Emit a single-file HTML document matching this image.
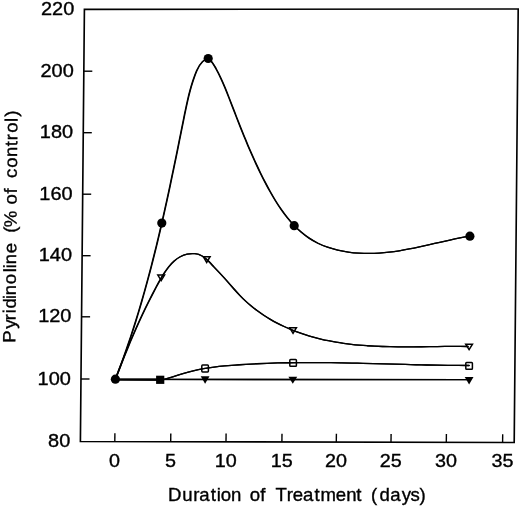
<!DOCTYPE html>
<html><head><meta charset="utf-8"><title>Pyridinoline chart</title>
<style>
html,body{margin:0;padding:0;background:#fff;}
body{width:520px;height:507px;overflow:hidden;}
svg{display:block;}
svg text{font-family:"Liberation Sans",sans-serif;font-size:17.7px;fill:#000;stroke:#000;stroke-width:0.35px;}
</style></head><body>
<svg width="520" height="507" viewBox="0 0 520 507">
<rect width="520" height="507" fill="#fff"/>
<polygon points="84.4,9.4 518.2,9.0 514.2,442.5 80.4,441.5" fill="none" stroke="#000" stroke-width="1.65" stroke-linejoin="miter"/>
<line x1="83.8" y1="71.2" x2="92.3" y2="71.2" stroke="#000" stroke-width="1.4"/>
<line x1="83.3" y1="132.7" x2="91.8" y2="132.7" stroke="#000" stroke-width="1.4"/>
<line x1="82.7" y1="194.2" x2="91.2" y2="194.2" stroke="#000" stroke-width="1.4"/>
<line x1="82.1" y1="255.7" x2="90.6" y2="255.7" stroke="#000" stroke-width="1.4"/>
<line x1="81.6" y1="316.8" x2="90.1" y2="316.8" stroke="#000" stroke-width="1.4"/>
<line x1="81.0" y1="379.0" x2="89.5" y2="379.0" stroke="#000" stroke-width="1.4"/>
<line x1="114.8" y1="441.6" x2="114.9" y2="433.3" stroke="#000" stroke-width="1.4"/>
<line x1="170.7" y1="441.7" x2="170.8" y2="433.4" stroke="#000" stroke-width="1.4"/>
<line x1="226.0" y1="441.8" x2="226.1" y2="433.5" stroke="#000" stroke-width="1.4"/>
<line x1="281.9" y1="442.0" x2="282.0" y2="433.7" stroke="#000" stroke-width="1.4"/>
<line x1="336.3" y1="442.1" x2="336.4" y2="433.8" stroke="#000" stroke-width="1.4"/>
<line x1="391.0" y1="442.2" x2="391.1" y2="433.9" stroke="#000" stroke-width="1.4"/>
<line x1="446.3" y1="442.3" x2="446.4" y2="434.0" stroke="#000" stroke-width="1.4"/>
<line x1="502.6" y1="442.5" x2="502.7" y2="434.2" stroke="#000" stroke-width="1.4"/>
<path d="M115.40 379.20 C116.65 376.00 117.89 372.80 119.10 369.60 C120.31 366.39 121.50 363.18 122.67 359.95 C123.84 356.73 124.99 353.50 126.12 350.27 C127.25 347.03 128.37 343.79 129.46 340.54 C130.55 337.29 131.63 334.03 132.68 330.77 C133.74 327.51 134.78 324.24 135.80 320.97 C136.82 317.70 137.83 314.42 138.82 311.13 C139.81 307.85 140.78 304.56 141.74 301.26 C142.69 297.97 143.64 294.67 144.56 291.37 C145.49 288.06 146.40 284.75 147.30 281.44 C148.20 278.13 149.09 274.81 149.96 271.49 C150.84 268.17 151.70 264.85 152.54 261.52 C153.39 258.19 154.23 254.86 155.05 251.53 C155.88 248.19 156.69 244.86 157.50 241.52 C158.30 238.18 159.09 234.84 159.87 231.49 C160.66 228.15 161.43 224.80 162.20 221.45 C162.96 218.10 163.72 214.75 164.47 211.40 C165.22 208.05 165.96 204.70 166.69 201.34 C167.42 197.99 168.15 194.64 168.87 191.28 C169.59 187.92 170.30 184.57 171.01 181.21 C171.72 177.86 172.42 174.50 173.12 171.14 C173.82 167.79 174.51 164.43 175.20 161.07 C175.89 157.72 176.57 154.36 177.26 151.01 C177.94 147.65 178.62 144.30 179.30 140.95 C179.97 137.59 180.65 134.24 181.32 130.89 C182.00 127.54 182.67 124.19 183.34 120.85 C184.01 117.50 184.68 114.16 185.37 110.82 C186.06 107.48 186.77 104.13 187.53 100.79 C188.29 97.46 189.11 94.12 190.01 90.78 C190.91 87.44 191.89 84.10 192.99 80.76 C194.09 77.42 195.26 74.04 196.70 70.75 C198.13 67.46 199.91 64.30 202.55 61.66 C205.19 59.01 208.15 58.18 210.33 60.15 C212.51 62.12 214.33 65.61 216.05 68.72 C217.78 71.83 219.36 74.98 220.84 78.16 C222.33 81.33 223.71 84.53 225.03 87.74 C226.35 90.95 227.62 94.18 228.86 97.39 C230.11 100.61 231.34 103.83 232.58 107.04 C233.82 110.24 235.06 113.44 236.30 116.64 C237.55 119.83 238.80 123.01 240.06 126.19 C241.32 129.37 242.59 132.53 243.88 135.69 C245.17 138.85 246.48 142.01 247.81 145.15 C249.14 148.29 250.49 151.42 251.87 154.55 C253.25 157.67 254.66 160.79 256.10 163.89 C257.53 166.99 259.01 170.09 260.52 173.17 C262.03 176.26 263.58 179.33 265.17 182.39 C266.77 185.46 268.40 188.51 270.09 191.54 C271.78 194.57 273.53 197.57 275.34 200.53 C277.15 203.48 279.03 206.38 280.99 209.21 C282.95 212.04 284.98 214.80 287.11 217.46 C289.24 220.12 291.46 222.68 293.79 225.12 C296.12 227.56 298.55 229.89 301.10 232.06 C303.64 234.24 306.31 236.28 309.11 238.15 C311.90 240.02 314.83 241.72 317.90 243.23 C320.97 244.74 324.19 246.06 327.51 247.20 C330.83 248.34 334.25 249.30 337.73 250.10 C341.21 250.90 344.74 251.54 348.27 252.04 C351.81 252.53 355.35 252.89 358.84 253.12 C362.34 253.35 365.78 253.46 369.17 253.46 C372.56 253.45 375.92 253.34 379.25 253.13 C382.58 252.92 385.89 252.61 389.21 252.22 C392.52 251.83 395.85 251.35 399.19 250.80 C402.54 250.26 405.90 249.64 409.27 248.98 C412.64 248.32 416.02 247.61 419.41 246.88 C422.79 246.14 426.18 245.37 429.57 244.60 C432.96 243.83 436.35 243.04 439.74 242.27 C443.12 241.50 446.50 240.75 449.87 240.02 C453.24 239.29 456.59 238.60 459.93 237.95 C463.27 237.31 466.59 236.72 469.89 236.20" fill="none" stroke="#000" stroke-width="1.30" stroke-linecap="round" transform="translate(-0.22 0)"/>
<path d="M115.40 379.20 C116.65 376.00 117.89 372.80 119.10 369.60 C120.31 366.39 121.50 363.18 122.67 359.95 C123.84 356.73 124.99 353.50 126.12 350.27 C127.25 347.03 128.37 343.79 129.46 340.54 C130.55 337.29 131.63 334.03 132.68 330.77 C133.74 327.51 134.78 324.24 135.80 320.97 C136.82 317.70 137.83 314.42 138.82 311.13 C139.81 307.85 140.78 304.56 141.74 301.26 C142.69 297.97 143.64 294.67 144.56 291.37 C145.49 288.06 146.40 284.75 147.30 281.44 C148.20 278.13 149.09 274.81 149.96 271.49 C150.84 268.17 151.70 264.85 152.54 261.52 C153.39 258.19 154.23 254.86 155.05 251.53 C155.88 248.19 156.69 244.86 157.50 241.52 C158.30 238.18 159.09 234.84 159.87 231.49 C160.66 228.15 161.43 224.80 162.20 221.45 C162.96 218.10 163.72 214.75 164.47 211.40 C165.22 208.05 165.96 204.70 166.69 201.34 C167.42 197.99 168.15 194.64 168.87 191.28 C169.59 187.92 170.30 184.57 171.01 181.21 C171.72 177.86 172.42 174.50 173.12 171.14 C173.82 167.79 174.51 164.43 175.20 161.07 C175.89 157.72 176.57 154.36 177.26 151.01 C177.94 147.65 178.62 144.30 179.30 140.95 C179.97 137.59 180.65 134.24 181.32 130.89 C182.00 127.54 182.67 124.19 183.34 120.85 C184.01 117.50 184.68 114.16 185.37 110.82 C186.06 107.48 186.77 104.13 187.53 100.79 C188.29 97.46 189.11 94.12 190.01 90.78 C190.91 87.44 191.89 84.10 192.99 80.76 C194.09 77.42 195.26 74.04 196.70 70.75 C198.13 67.46 199.91 64.30 202.55 61.66 C205.19 59.01 208.15 58.18 210.33 60.15 C212.51 62.12 214.33 65.61 216.05 68.72 C217.78 71.83 219.36 74.98 220.84 78.16 C222.33 81.33 223.71 84.53 225.03 87.74 C226.35 90.95 227.62 94.18 228.86 97.39 C230.11 100.61 231.34 103.83 232.58 107.04 C233.82 110.24 235.06 113.44 236.30 116.64 C237.55 119.83 238.80 123.01 240.06 126.19 C241.32 129.37 242.59 132.53 243.88 135.69 C245.17 138.85 246.48 142.01 247.81 145.15 C249.14 148.29 250.49 151.42 251.87 154.55 C253.25 157.67 254.66 160.79 256.10 163.89 C257.53 166.99 259.01 170.09 260.52 173.17 C262.03 176.26 263.58 179.33 265.17 182.39 C266.77 185.46 268.40 188.51 270.09 191.54 C271.78 194.57 273.53 197.57 275.34 200.53 C277.15 203.48 279.03 206.38 280.99 209.21 C282.95 212.04 284.98 214.80 287.11 217.46 C289.24 220.12 291.46 222.68 293.79 225.12 C296.12 227.56 298.55 229.89 301.10 232.06 C303.64 234.24 306.31 236.28 309.11 238.15 C311.90 240.02 314.83 241.72 317.90 243.23 C320.97 244.74 324.19 246.06 327.51 247.20 C330.83 248.34 334.25 249.30 337.73 250.10 C341.21 250.90 344.74 251.54 348.27 252.04 C351.81 252.53 355.35 252.89 358.84 253.12 C362.34 253.35 365.78 253.46 369.17 253.46 C372.56 253.45 375.92 253.34 379.25 253.13 C382.58 252.92 385.89 252.61 389.21 252.22 C392.52 251.83 395.85 251.35 399.19 250.80 C402.54 250.26 405.90 249.64 409.27 248.98 C412.64 248.32 416.02 247.61 419.41 246.88 C422.79 246.14 426.18 245.37 429.57 244.60 C432.96 243.83 436.35 243.04 439.74 242.27 C443.12 241.50 446.50 240.75 449.87 240.02 C453.24 239.29 456.59 238.60 459.93 237.95 C463.27 237.31 466.59 236.72 469.89 236.20" fill="none" stroke="#000" stroke-width="1.30" stroke-linecap="round" transform="translate(0.22 0)"/>
<path d="M115.40 379.20 C116.44 376.49 117.47 373.83 118.48 371.22 C119.49 368.61 120.49 366.05 121.48 363.53 C122.47 361.01 123.46 358.54 124.43 356.10 C125.41 353.67 126.38 351.27 127.35 348.89 C128.32 346.52 129.29 344.18 130.26 341.87 C131.23 339.55 132.21 337.25 133.19 334.97 C134.17 332.70 135.16 330.44 136.15 328.18 C137.15 325.93 138.16 323.69 139.18 321.45 C140.20 319.22 141.24 316.98 142.30 314.74 C143.35 312.50 144.43 310.26 145.52 308.01 C146.62 305.76 147.74 303.50 148.88 301.22 C150.02 298.94 151.19 296.65 152.39 294.33 C153.59 292.01 154.83 289.67 156.09 287.30 C157.35 284.93 158.65 282.52 160.00 280.13 C161.35 277.74 162.75 275.37 164.23 273.09 C165.71 270.81 167.26 268.61 168.92 266.57 C170.57 264.53 172.33 262.64 174.21 260.98 C176.09 259.31 178.09 257.86 180.24 256.70 C182.39 255.54 184.69 254.66 187.16 254.14 C189.62 253.61 192.23 253.44 194.79 253.72 C197.35 254.00 199.86 254.73 202.13 256.00 C204.41 257.27 206.44 259.10 208.35 261.04 C210.27 262.98 212.09 264.96 213.87 266.85 C215.65 268.74 217.39 270.58 219.11 272.41 C220.82 274.24 222.51 276.07 224.20 277.93 C225.89 279.79 227.57 281.70 229.27 283.64 C230.97 285.59 232.69 287.56 234.43 289.53 C236.18 291.49 237.95 293.44 239.77 295.35 C241.59 297.25 243.46 299.09 245.37 300.87 C247.29 302.65 249.25 304.37 251.25 306.02 C253.25 307.68 255.30 309.27 257.39 310.81 C259.47 312.34 261.60 313.82 263.76 315.24 C265.92 316.66 268.12 318.02 270.35 319.32 C272.58 320.63 274.84 321.88 277.13 323.07 C279.43 324.26 281.75 325.40 284.10 326.49 C286.44 327.58 288.81 328.61 291.21 329.60 C293.60 330.58 296.02 331.51 298.46 332.39 C300.89 333.28 303.35 334.11 305.82 334.89 C308.29 335.68 310.77 336.42 313.27 337.11 C315.77 337.80 318.27 338.44 320.79 339.04 C323.31 339.64 325.83 340.20 328.37 340.71 C330.90 341.23 333.44 341.70 335.99 342.13 C338.53 342.57 341.09 342.96 343.65 343.32 C346.21 343.68 348.78 344.01 351.35 344.30 C353.92 344.60 356.50 344.86 359.08 345.09 C361.66 345.32 364.25 345.53 366.84 345.71 C369.43 345.88 372.02 346.04 374.62 346.17 C377.22 346.30 379.82 346.40 382.42 346.49 C385.02 346.58 387.62 346.65 390.23 346.70 C392.83 346.75 395.44 346.79 398.05 346.81 C400.65 346.83 403.26 346.84 405.87 346.84 C408.48 346.84 411.08 346.83 413.69 346.81 C416.30 346.79 418.90 346.77 421.50 346.74 C424.11 346.71 426.71 346.68 429.31 346.65 C431.91 346.62 434.50 346.58 437.10 346.55 C439.69 346.52 442.28 346.49 444.86 346.47 C447.45 346.45 450.03 346.43 452.60 346.42 C455.18 346.42 457.75 346.42 460.32 346.43 C462.88 346.44 465.44 346.47 467.99 346.51" fill="none" stroke="#000" stroke-width="1.30" stroke-linecap="round" transform="translate(-0.22 0)"/>
<path d="M115.40 379.20 C116.44 376.49 117.47 373.83 118.48 371.22 C119.49 368.61 120.49 366.05 121.48 363.53 C122.47 361.01 123.46 358.54 124.43 356.10 C125.41 353.67 126.38 351.27 127.35 348.89 C128.32 346.52 129.29 344.18 130.26 341.87 C131.23 339.55 132.21 337.25 133.19 334.97 C134.17 332.70 135.16 330.44 136.15 328.18 C137.15 325.93 138.16 323.69 139.18 321.45 C140.20 319.22 141.24 316.98 142.30 314.74 C143.35 312.50 144.43 310.26 145.52 308.01 C146.62 305.76 147.74 303.50 148.88 301.22 C150.02 298.94 151.19 296.65 152.39 294.33 C153.59 292.01 154.83 289.67 156.09 287.30 C157.35 284.93 158.65 282.52 160.00 280.13 C161.35 277.74 162.75 275.37 164.23 273.09 C165.71 270.81 167.26 268.61 168.92 266.57 C170.57 264.53 172.33 262.64 174.21 260.98 C176.09 259.31 178.09 257.86 180.24 256.70 C182.39 255.54 184.69 254.66 187.16 254.14 C189.62 253.61 192.23 253.44 194.79 253.72 C197.35 254.00 199.86 254.73 202.13 256.00 C204.41 257.27 206.44 259.10 208.35 261.04 C210.27 262.98 212.09 264.96 213.87 266.85 C215.65 268.74 217.39 270.58 219.11 272.41 C220.82 274.24 222.51 276.07 224.20 277.93 C225.89 279.79 227.57 281.70 229.27 283.64 C230.97 285.59 232.69 287.56 234.43 289.53 C236.18 291.49 237.95 293.44 239.77 295.35 C241.59 297.25 243.46 299.09 245.37 300.87 C247.29 302.65 249.25 304.37 251.25 306.02 C253.25 307.68 255.30 309.27 257.39 310.81 C259.47 312.34 261.60 313.82 263.76 315.24 C265.92 316.66 268.12 318.02 270.35 319.32 C272.58 320.63 274.84 321.88 277.13 323.07 C279.43 324.26 281.75 325.40 284.10 326.49 C286.44 327.58 288.81 328.61 291.21 329.60 C293.60 330.58 296.02 331.51 298.46 332.39 C300.89 333.28 303.35 334.11 305.82 334.89 C308.29 335.68 310.77 336.42 313.27 337.11 C315.77 337.80 318.27 338.44 320.79 339.04 C323.31 339.64 325.83 340.20 328.37 340.71 C330.90 341.23 333.44 341.70 335.99 342.13 C338.53 342.57 341.09 342.96 343.65 343.32 C346.21 343.68 348.78 344.01 351.35 344.30 C353.92 344.60 356.50 344.86 359.08 345.09 C361.66 345.32 364.25 345.53 366.84 345.71 C369.43 345.88 372.02 346.04 374.62 346.17 C377.22 346.30 379.82 346.40 382.42 346.49 C385.02 346.58 387.62 346.65 390.23 346.70 C392.83 346.75 395.44 346.79 398.05 346.81 C400.65 346.83 403.26 346.84 405.87 346.84 C408.48 346.84 411.08 346.83 413.69 346.81 C416.30 346.79 418.90 346.77 421.50 346.74 C424.11 346.71 426.71 346.68 429.31 346.65 C431.91 346.62 434.50 346.58 437.10 346.55 C439.69 346.52 442.28 346.49 444.86 346.47 C447.45 346.45 450.03 346.43 452.60 346.42 C455.18 346.42 457.75 346.42 460.32 346.43 C462.88 346.44 465.44 346.47 467.99 346.51" fill="none" stroke="#000" stroke-width="1.30" stroke-linecap="round" transform="translate(0.22 0)"/>
<path d="M162.55 379.94 C165.94 378.89 169.33 377.82 172.72 376.77 C176.12 375.71 179.52 374.68 182.93 373.69 C186.34 372.71 189.77 371.78 193.21 370.94 C196.65 370.09 200.11 369.35 203.59 368.72 C207.07 368.09 210.57 367.57 214.09 367.12 C217.60 366.67 221.12 366.30 224.65 365.97 C228.18 365.65 231.71 365.36 235.24 365.09 C238.77 364.82 242.31 364.58 245.84 364.36 C249.38 364.14 252.92 363.94 256.45 363.77 C259.99 363.60 263.53 363.44 267.07 363.31 C270.61 363.18 274.15 363.07 277.69 362.97 C281.23 362.88 284.77 362.80 288.31 362.74 C291.86 362.68 295.40 362.64 298.94 362.61 C302.49 362.58 306.03 362.57 309.58 362.57 C313.12 362.57 316.67 362.58 320.22 362.61 C323.76 362.63 327.31 362.67 330.85 362.71 C334.40 362.75 337.95 362.81 341.50 362.87 C345.04 362.93 348.59 363.00 352.14 363.08 C355.69 363.16 359.23 363.24 362.78 363.32 C366.33 363.41 369.88 363.50 373.42 363.60 C376.97 363.69 380.52 363.78 384.06 363.88 C387.61 363.98 391.16 364.08 394.70 364.17 C398.25 364.27 401.80 364.37 405.34 364.46 C408.89 364.55 412.43 364.64 415.98 364.73 C419.52 364.82 423.07 364.90 426.61 364.98 C430.15 365.05 433.69 365.12 437.24 365.19 C440.78 365.25 444.32 365.30 447.86 365.35 C451.40 365.39 454.94 365.43 458.47 365.45 C462.01 365.48 465.55 365.49 469.09 365.49" fill="none" stroke="#000" stroke-width="1.30" stroke-linecap="round" transform="translate(-0.22 0)"/>
<path d="M162.55 379.94 C165.94 378.89 169.33 377.82 172.72 376.77 C176.12 375.71 179.52 374.68 182.93 373.69 C186.34 372.71 189.77 371.78 193.21 370.94 C196.65 370.09 200.11 369.35 203.59 368.72 C207.07 368.09 210.57 367.57 214.09 367.12 C217.60 366.67 221.12 366.30 224.65 365.97 C228.18 365.65 231.71 365.36 235.24 365.09 C238.77 364.82 242.31 364.58 245.84 364.36 C249.38 364.14 252.92 363.94 256.45 363.77 C259.99 363.60 263.53 363.44 267.07 363.31 C270.61 363.18 274.15 363.07 277.69 362.97 C281.23 362.88 284.77 362.80 288.31 362.74 C291.86 362.68 295.40 362.64 298.94 362.61 C302.49 362.58 306.03 362.57 309.58 362.57 C313.12 362.57 316.67 362.58 320.22 362.61 C323.76 362.63 327.31 362.67 330.85 362.71 C334.40 362.75 337.95 362.81 341.50 362.87 C345.04 362.93 348.59 363.00 352.14 363.08 C355.69 363.16 359.23 363.24 362.78 363.32 C366.33 363.41 369.88 363.50 373.42 363.60 C376.97 363.69 380.52 363.78 384.06 363.88 C387.61 363.98 391.16 364.08 394.70 364.17 C398.25 364.27 401.80 364.37 405.34 364.46 C408.89 364.55 412.43 364.64 415.98 364.73 C419.52 364.82 423.07 364.90 426.61 364.98 C430.15 365.05 433.69 365.12 437.24 365.19 C440.78 365.25 444.32 365.30 447.86 365.35 C451.40 365.39 454.94 365.43 458.47 365.45 C462.01 365.48 465.55 365.49 469.09 365.49" fill="none" stroke="#000" stroke-width="1.30" stroke-linecap="round" transform="translate(0.22 0)"/>
<path d="M115.4 379.4 L469 379.6" fill="none" stroke="#000" stroke-width="1.30" stroke-linecap="round" transform="translate(-0.22 0)"/>
<path d="M115.4 379.4 L469 379.6" fill="none" stroke="#000" stroke-width="1.30" stroke-linecap="round" transform="translate(0.22 0)"/>
<path d="M115.4 379.6 L160 379.8" fill="none" stroke="#000" stroke-width="1.90" stroke-linecap="round" transform="translate(-0.22 0)"/>
<path d="M115.4 379.6 L160 379.8" fill="none" stroke="#000" stroke-width="1.90" stroke-linecap="round" transform="translate(0.22 0)"/>
<circle cx="115.40" cy="379.20" r="4.6" fill="#000"/>
<circle cx="161.80" cy="223.10" r="4.6" fill="#000"/>
<circle cx="208.20" cy="58.50" r="4.6" fill="#000"/>
<circle cx="294.20" cy="225.70" r="4.6" fill="#000"/>
<circle cx="469.90" cy="236.20" r="4.6" fill="#000"/>
<polygon points="157.83,275.05 164.57,275.05 161.20,280.60" fill="none" stroke="#000" stroke-width="1.5" stroke-linejoin="miter"/>
<polygon points="203.33,256.75 210.07,256.75 206.70,262.50" fill="none" stroke="#000" stroke-width="1.5" stroke-linejoin="miter"/>
<polygon points="289.68,327.65 296.42,327.65 293.05,333.30" fill="none" stroke="#000" stroke-width="1.5" stroke-linejoin="miter"/>
<polygon points="465.73,344.15 472.47,344.15 469.10,349.60" fill="none" stroke="#000" stroke-width="1.5" stroke-linejoin="miter"/>
<rect x="201.80" y="365.10" width="6.60" height="6.80" rx="0.8" fill="none" stroke="#000" stroke-width="1.5"/>
<rect x="289.80" y="359.40" width="6.60" height="6.80" rx="0.8" fill="none" stroke="#000" stroke-width="1.5"/>
<rect x="465.80" y="362.40" width="6.60" height="6.80" rx="0.8" fill="none" stroke="#000" stroke-width="1.5"/>
<rect x="156.10" y="375.70" width="8.20" height="8.20" fill="#000"/>
<polygon points="200.70,376.20 209.50,376.20 205.10,383.80" fill="#000"/>
<polygon points="288.40,376.70 297.20,376.70 292.80,383.80" fill="#000"/>
<polygon points="464.70,376.90 473.50,376.90 469.10,384.60" fill="#000"/>
<text x="74.32" y="15.10" text-anchor="end" textLength="33.3" lengthAdjust="spacingAndGlyphs">220</text>
<text x="73.74" y="76.80" text-anchor="end" textLength="33.3" lengthAdjust="spacingAndGlyphs">200</text>
<text x="73.17" y="138.30" text-anchor="end" textLength="33.3" lengthAdjust="spacingAndGlyphs">180</text>
<text x="72.60" y="199.80" text-anchor="end" textLength="33.3" lengthAdjust="spacingAndGlyphs">160</text>
<text x="72.03" y="261.30" text-anchor="end" textLength="33.3" lengthAdjust="spacingAndGlyphs">140</text>
<text x="71.46" y="322.40" text-anchor="end" textLength="33.3" lengthAdjust="spacingAndGlyphs">120</text>
<text x="70.88" y="384.60" text-anchor="end" textLength="33.3" lengthAdjust="spacingAndGlyphs">100</text>
<text x="70.30" y="447.10" text-anchor="end" textLength="22.2" lengthAdjust="spacingAndGlyphs">80</text>
<text x="114.60" y="466.90" text-anchor="middle" textLength="11.0" lengthAdjust="spacingAndGlyphs">0</text>
<text x="170.50" y="466.90" text-anchor="middle" textLength="11.0" lengthAdjust="spacingAndGlyphs">5</text>
<text x="225.80" y="466.90" text-anchor="middle" textLength="22.0" lengthAdjust="spacingAndGlyphs">10</text>
<text x="281.70" y="466.90" text-anchor="middle" textLength="22.0" lengthAdjust="spacingAndGlyphs">15</text>
<text x="336.10" y="466.90" text-anchor="middle" textLength="22.0" lengthAdjust="spacingAndGlyphs">20</text>
<text x="390.80" y="466.90" text-anchor="middle" textLength="22.0" lengthAdjust="spacingAndGlyphs">25</text>
<text x="446.10" y="466.90" text-anchor="middle" textLength="22.0" lengthAdjust="spacingAndGlyphs">30</text>
<text x="502.40" y="466.90" text-anchor="middle" textLength="22.0" lengthAdjust="spacingAndGlyphs">35</text>
<text transform="matrix(1.050 0 0 1 0 501.4)" x="159.98 173.66 184.07 189.74 200.62 206.34 210.33 220.04 231.36 237.75 247.96 255.16 262.37 273.02 278.80 288.50 299.48 305.13 319.85 329.85 339.29 346.32 353.35 361.50 371.74 382.53 390.86 399.43" y="0">Duration of Treatment (days)</text>
<text transform="matrix(0.00976 -1.050 1 0 18.51 0)" x="-326.44 -313.00 -304.89 -298.23 -293.93 -284.71 -281.20 -270.63 -259.38 -255.38 -251.67 -241.10 -228.89 -221.60 -216.35 -200.13 -194.72 -184.23 -176.94 -169.65 -159.77 -149.58 -139.19 -133.65 -126.44 -116.23 -111.14" y="0">Pyridinoline (% of control)</text>
</svg>
</body></html>
